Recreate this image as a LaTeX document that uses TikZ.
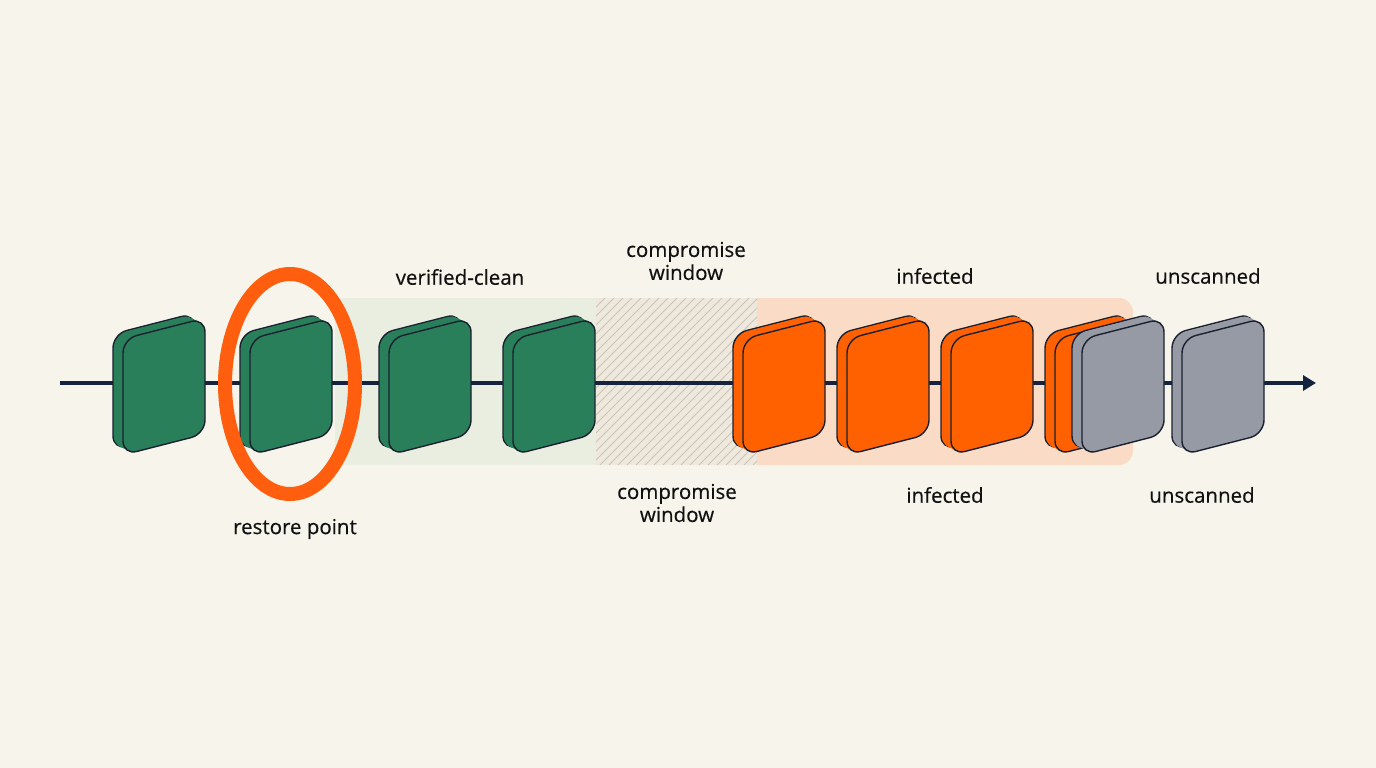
\documentclass[tikz,border=0pt]{standalone}
\usepackage{fontspec}
\setmainfont{Open Sans}
\newfontfamily\lblfont[FakeBold=0.5]{Open Sans}
\usetikzlibrary{arrows.meta}

\definecolor{bgCream}{HTML}{F7F5EB}
\definecolor{slabGreen}{HTML}{2A7F5B}
\definecolor{slabOrange}{HTML}{FF6100}
\definecolor{slabGray}{HTML}{959AA4}
\definecolor{slabEdge}{HTML}{1B2030}
\definecolor{lineNavy}{HTML}{142440}
\definecolor{bandGreen}{HTML}{E9EEE0}
\definecolor{bandOrange}{HTML}{FADCC6}
\definecolor{bandWindow}{HTML}{EFE9DD}
\definecolor{hatchGray}{HTML}{C9C5BA}
\definecolor{ringOrange}{HTML}{FF5E0E}
\definecolor{inkText}{HTML}{111111}

\begin{document}
\begin{tikzpicture}[x=1pt,y=-1pt,
  lbl/.style={font=\lblfont\fontsize{20.5}{23}\selectfont, text=inkText, align=center, inner sep=0pt},
  timeline/.style={draw=lineNavy, line width=3.2pt},
  slabface/.style={draw=slabEdge, line width=1.4pt, rounded corners=14pt},
  slabfill/.style={rounded corners=14pt},
  restoreRing/.style={draw=ringOrange, line width=14pt}]

  % Parameters
  \def\slabW{82} % width of a snapshot face
  \def\slabTop{339} % top of the left side
  \def\slabBot{455} % bottom of the left side
  \def\slabSkew{21} % rise of the right side
  \def\slabFace{(\slabX,\slabTop) -- ({\slabX+\slabW},{\slabTop-\slabSkew})
      -- ({\slabX+\slabW},{\slabBot-\slabSkew}) -- (\slabX,\slabBot) -- cycle}

  % Snapshot: back face, body, front face
  \def\slab#1#2{%
    \def\slabX{#1}
    \path[slabface, fill=#2, shift={(-10,-5)}] \slabFace;
    \foreach \t in {0.88,0.76,...,0.05}
      \path[slabfill, fill=#2, shift={({-10*\t},{-5*\t})}] \slabFace;
    \path[slabface, fill=#2] \slabFace;
  }

  % Background
  \fill[bgCream] (0,0) rectangle (1376,768);

  % Bands
  \fill[bandGreen] (335,298) rectangle (596,465);
  \fill[bandOrange, rounded corners=14pt] (700,298) rectangle (1133,465);
  \fill[bandWindow] (596,298) rectangle (757,465);
  \begin{scope}
    \clip (596,298) rectangle (757,465);
    \foreach \k in {429,438,...,760}
      \draw[hatchGray, line width=1pt] (\k,465) -- ++(167,-167);
  \end{scope}

  % Timeline
  \coordinate (tStart) at (60,383);
  \coordinate (tEnd) at (1316,383);
  \draw[timeline, -{Triangle[length=13pt,width=15pt]}] (tStart) -- (tEnd);

  % Snapshots
  \foreach \x in {123,250,389,513}
    {\slab{\x}{slabGreen}}
  \foreach \x in {743,847,951,1055}
    {\slab{\x}{slabOrange}}
  \foreach \x in {1082,1182}
    {\slab{\x}{slabGray}}

  % Restore point ring
  \draw[restoreRing] (290,384) ellipse [x radius=65, y radius=110];

  % Labels above
  \node[lbl] (lblClean) at (460,277) {verified-clean};
  \node[lbl] (lblWindowTop) at (686,261) {compromise\\window};
  \node[lbl] (lblInfectedTop) at (935,276) {infected};
  \node[lbl] (lblUnscannedTop) at (1208,276) {unscanned};

  % Labels below
  \node[lbl] (lblRestore) at (295,529) {restore point};
  \node[lbl] (lblWindowBot) at (677,503) {compromise\\window};
  \node[lbl] (lblInfectedBot) at (945,495) {infected};
  \node[lbl] (lblUnscannedBot) at (1202,495) {unscanned};
\end{tikzpicture}
\end{document}
